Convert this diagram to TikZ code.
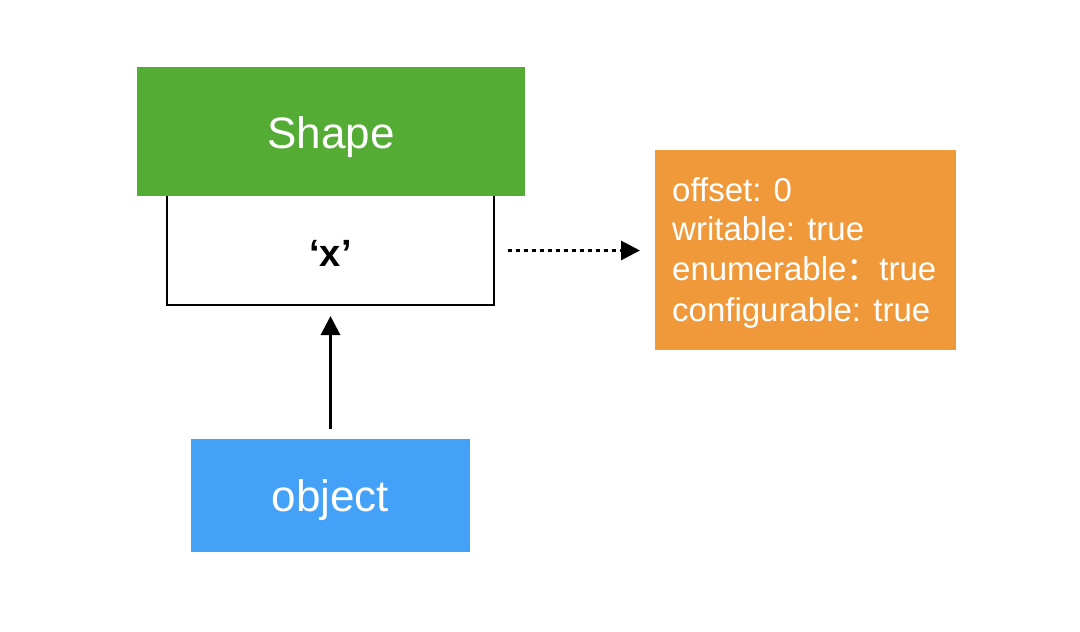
\documentclass[tikz,border=0pt]{standalone}
\usepackage{fontspec}
\setmainfont{Liberation Sans}
\newfontfamily\cjk{Noto Sans CJK SC}
\usetikzlibrary{arrows.meta}
\definecolor{shapegreen}{RGB}{85,172,52}
\definecolor{proporange}{RGB}{240,153,58}
\definecolor{objblue}{RGB}{67,161,248}
\tikzset{
  box/.style={rectangle, inner sep=0pt, outer sep=0pt},
  bigwhite/.style={text=white, anchor=base, inner sep=0pt, font=\fontsize{44}{50}\selectfont},
  proptext/.style={text=white, anchor=base west, inner sep=0pt, font=\fontsize{33}{40}\selectfont},
  conn/.style={line width=3pt, -{Triangle[width=19pt,length=19pt]}},
}
\begin{document}
\begin{tikzpicture}[x=1pt,y=-1pt]
\useasboundingbox (0,0) rectangle (1080,632);
% property key box: open at the top, under the header
\node[box, minimum width=327pt, minimum height=109pt, anchor=north] (key) at (330.5,196) {};
\draw[line width=2pt] (key.north west) |- (key.south east) -- (key.north east);
\node[font=\fontsize{38}{40}\selectfont\bfseries, anchor=base, inner sep=0pt] (keylbl) at (330.5,266) {‘x’};
% Shape header
\node[box, fill=shapegreen, minimum width=388pt, minimum height=129pt] (shape) at (331,131.5) {};
\node[bigwhite] (shapelbl) at (331,148) {Shape};
% descriptor
\node[box, fill=proporange, minimum width=301pt, minimum height=200pt, anchor=north west] (desc) at (655,150) {};
\node[proptext] (p1) at (672,201.5) {offset: 0};
\node[proptext] (p2) at (672,240) {writable: true};
\node[proptext] (p3) at (672,280.5) {enumerable{\cjk ：}true};
\node[proptext] (p4) at (672,321.5) {configurable: true};
% object
\node[box, fill=objblue, minimum width=279pt, minimum height=113pt, anchor=north west] (obj) at (191,439) {};
\node[bigwhite] (objlbl) at (330.5,511.5) {object};
% connectors
\draw[conn, shorten <=10pt, shorten >=11pt] (obj.north -| key.south) -- (key.south);
\draw[conn, dash pattern=on 4pt off 4pt, shorten <=14pt, shorten >=15pt] (key.east) -- (key.east -| desc.west);
\end{tikzpicture}
\end{document}
